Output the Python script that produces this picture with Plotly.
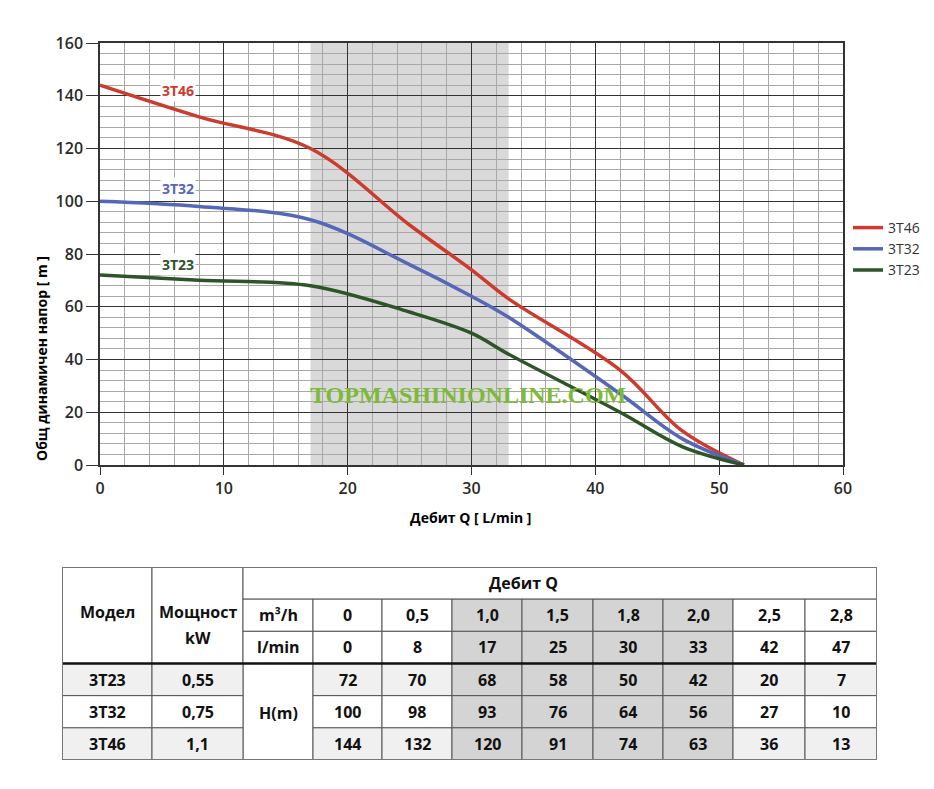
import plotly.graph_objects as go

# pump data (table + chart)
models = ["3T23", "3T32", "3T46"]
power_kw = ["0,55", "0,75", "1,1"]
flow_m3h = ["0", "0,5", "1,0", "1,5", "1,8", "2,0", "2,5", "2,8"]
flow_lmin = [0, 8, 17, 25, 30, 33, 42, 47]
head_3t23 = [72, 70, 68, 58, 50, 42, 20, 7]
head_3t32 = [100, 98, 93, 76, 64, 56, 27, 10]
head_3t46 = [144, 132, 120, 91, 74, 63, 36, 13]
shutoff_flow = 52   # l/min where head drops to 0
shaded_cols = [2, 3, 4, 5]   # working range columns

colors = {"3T46": "#cc3b2c", "3T32": "#5567b8", "3T23": "#2d5528"}
heads = {"3T23": head_3t23, "3T32": head_3t32, "3T46": head_3t46}
label_pos = {"3T46": (6.3, 142), "3T32": (6.3, 105), "3T23": (6.3, 76)}

# page has an 8px body margin, so the figure is a bit smaller than the window
OFF = 8
W, H = 934 - 2 * OFF, 789 - 2 * OFF
FONT = "Open Sans"


def px(x):
    return (x - OFF) / W


def py(y):
    return 1 - (y - OFF) / H


fig = go.Figure()

for name in ["3T46", "3T32", "3T23"]:
    fig.add_trace(go.Scatter(
        x=flow_lmin + [shutoff_flow],
        y=heads[name] + [0],
        mode="lines",
        name=name,
        line=dict(color=colors[name], width=3.5, shape="spline", smoothing=1.0),
        xaxis="x", yaxis="y",
    ))

# shaded working range
fig.add_shape(type="rect", xref="x", yref="y",
              x0=flow_lmin[shaded_cols[0]], x1=flow_lmin[shaded_cols[-1]],
              y0=0, y1=160, fillcolor="#d9d9d9", line_width=0, layer="below")

# curve labels
annotations = []
for name, (lx, ly) in label_pos.items():
    annotations.append(dict(x=lx, y=ly, xref="x", yref="y", text="<b>%s</b>" % name,
                            showarrow=False, bgcolor="white",
                            font=dict(family=FONT, size=14, color=colors[name])))

# axis titles and watermark
annotations.append(dict(x=px(30), y=py(254), xref="paper", yref="paper",
                        text="<b>Общ динамичен напор [ m ]</b>", textangle=-90,
                        showarrow=False, font=dict(family=FONT, size=14, color="black")))
annotations.append(dict(x=px(471), y=py(517), xref="paper", yref="paper",
                        text="<b>Дебит Q [ L/min ]</b>",
                        showarrow=False, font=dict(family=FONT, size=14, color="black")))
annotations.append(dict(x=px(468), y=py(395), xref="paper", yref="paper",
                        text="<b>TOPMASHINIONLINE.COM</b>", showarrow=False,
                        font=dict(family="Liberation Serif", size=24, color="#7cba38")))

# ---- table drawn on its own axes ----
col_edges = [0, 90, 181, 251, 320, 390, 460, 531, 601, 671, 743, 815]
LIGHT, MID = "#f0f0f0", "#d4d4d4"
tfont = dict(family=FONT, size=16, color="#111")
shapes = []


def cell(c0, c1, r0, r1, fill="white", text=None, ty=None, tx=None):
    shapes.append(dict(type="rect", xref="x2", yref="y2",
                       x0=col_edges[c0], x1=col_edges[c1], y0=r0, y1=r1,
                       fillcolor=fill, line=dict(color="#555", width=1)))
    if text is not None:
        annotations.append(dict(
            x=tx if tx is not None else (col_edges[c0] + col_edges[c1]) / 2,
            y=ty if ty is not None else (r0 + r1) / 2,
            xref="x2", yref="y2", text="<b>%s</b>" % text, showarrow=False, font=tfont))


cell(0, 1, 0, 3, text="Модел", ty=1.4)
cell(1, 2, 0, 3)
annotations.append(dict(x=(col_edges[1] + col_edges[2]) / 2, y=1.4, xref="x2", yref="y2",
                        text="<b>Мощност</b>", showarrow=False, font=tfont))
annotations.append(dict(x=(col_edges[1] + col_edges[2]) / 2, y=2.2, xref="x2", yref="y2",
                        text="<b>kW</b>", showarrow=False, font=tfont))
cell(2, 11, 0, 1, text="Дебит Q", tx=(col_edges[3] + col_edges[9]) / 2)
cell(2, 3, 1, 2, text="m³/h")
cell(2, 3, 2, 3, text="l/min")
for i in range(len(flow_m3h)):
    f = MID if i in shaded_cols else "white"
    cell(3 + i, 4 + i, 1, 2, fill=f, text=flow_m3h[i])
    cell(3 + i, 4 + i, 2, 3, fill=f, text=str(flow_lmin[i]))

cell(2, 3, 3, 6, text="H(m)", ty=4.55)
for r, name in enumerate(models):
    base = LIGHT if r != 1 else "white"
    cell(0, 1, 3 + r, 4 + r, fill=base, text=name)
    cell(1, 2, 3 + r, 4 + r, fill=base, text=power_kw[r])
    for i, v in enumerate(heads[name]):
        f = MID if i in shaded_cols else base
        cell(3 + i, 4 + i, 3 + r, 4 + r, fill=f, text=str(v))

# thick header separator and outer frame
shapes.append(dict(type="line", xref="x2", yref="y2", x0=0, x1=col_edges[-1], y0=3, y1=3,
                   line=dict(color="#111", width=2.5)))
shapes.append(dict(type="rect", xref="x2", yref="y2", x0=0, x1=col_edges[-1], y0=0, y1=6,
                   line=dict(color="#777", width=2)))

for s in shapes:
    fig.add_shape(**s)

tick_font = dict(family=FONT, size=16, color="#2a2a2a", weight=600)

fig.update_layout(
    width=W, height=H,
    margin=dict(l=0, r=0, t=0, b=0, autoexpand=False),
    paper_bgcolor="white", plot_bgcolor="white",
    annotations=annotations,
    showlegend=True,
    legend=dict(x=px(848), y=py(212), xanchor="left", yanchor="top",
                font=dict(family=FONT, size=14, color="#333"), bgcolor="rgba(0,0,0,0)"),
    xaxis=dict(domain=[px(100), px(843)], range=[0, 60], dtick=10, automargin=False,
               showgrid=True, gridcolor="#333", gridwidth=1.2,
               minor=dict(dtick=2, showgrid=True, gridcolor="#a8a8a8", gridwidth=1),
               showline=True, linecolor="#333", linewidth=1.5, mirror=True,
               ticks="outside", ticklen=8, tickcolor="#333", zeroline=False,
               tickfont=tick_font, fixedrange=True),
    yaxis=dict(domain=[py(465), py(43)], range=[0, 160], dtick=20, automargin=False,
               showgrid=True, gridcolor="#333", gridwidth=1.2,
               minor=dict(dtick=4, showgrid=True, gridcolor="#a8a8a8", gridwidth=1),
               showline=True, linecolor="#333", linewidth=1.5, mirror=True,
               ticks="outside", ticklen=12, tickcolor="#333", zeroline=False,
               tickfont=tick_font, fixedrange=True),
    xaxis2=dict(domain=[px(62), px(877)], range=[0, col_edges[-1]], visible=False,
                anchor="y2", fixedrange=True, automargin=False),
    yaxis2=dict(domain=[py(760), py(567)], range=[6, 0], visible=False,
                anchor="x2", fixedrange=True, automargin=False),
)

fig.write_html("out.html")
